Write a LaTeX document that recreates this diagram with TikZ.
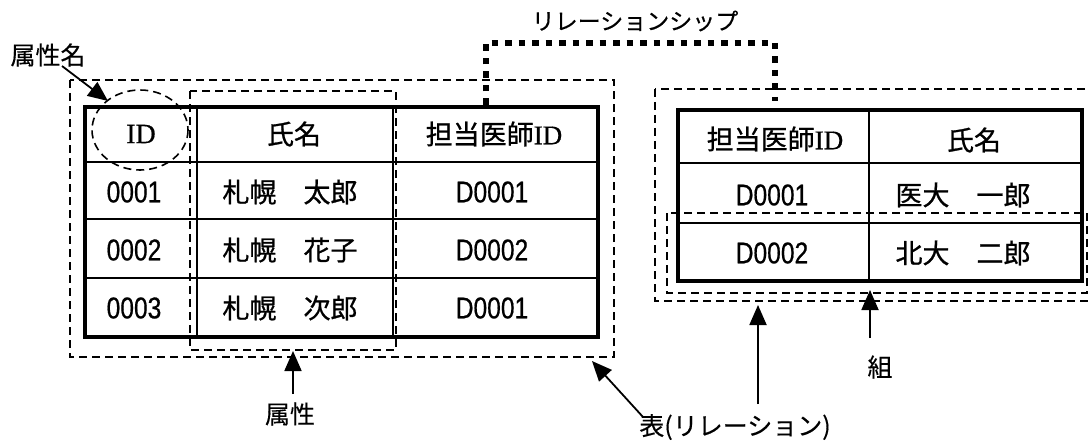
\documentclass[tikz,border=0pt]{standalone}
\usepackage{fontspec}
\usetikzlibrary{arrows.meta}
\newfontfamily\cjk[FakeBold=0.8]{Noto Sans CJK JP}
\newfontfamily\cjklight[FakeBold=0.3]{Noto Sans CJK JP}
\newfontfamily\nar[FakeStretch=0.82,FakeBold=0.6]{Liberation Sans}
\newfontfamily\ser[FakeBold=0.6]{Liberation Serif}
\tikzset{
  tbl/.style={line width=4.5pt, line join=miter},
  hline/.style={line width=2.6pt},
  rline/.style={line width=2pt},
  vline/.style={line width=1.6pt},
  dbox/.style={line width=1.6pt, dash pattern=on 8pt off 5pt},
  rel/.style={line width=6.5pt, dash pattern=on 6.5pt off 7pt},
  arr/.style={line width=1.8pt, -{Triangle[length=20pt,width=17pt]}},
  cell/.style={inner sep=0pt, font=\cjk\fontsize{27}{30}\selectfont},
  num/.style={inner sep=0pt, font=\nar\fontsize{30}{34}\selectfont},
  lbl/.style={inner sep=0pt, font=\cjklight\fontsize{25}{30}\selectfont}
}
\begin{document}
\begin{tikzpicture}[x=1pt,y=-1pt]
\useasboundingbox (0,0) rectangle (1089,441);
\fill[white] (0,0) rectangle (1089,441);
% ---------- left table ----------
\draw[hline] (85,162) -- (598,162);
\draw[rline] (85,219) -- (598,219);
\draw[rline] (85,278) -- (598,278);
\draw[vline] (197,107) -- (197,337);
\draw[vline] (393,107) -- (393,337);
\draw[tbl] (85,107) rectangle (598,337);
\node[inner sep=0pt, font=\ser\fontsize{28}{30}\selectfont] (lh1) at (141,134) {ID};
\node[cell] (lh2) at (294,134) {氏名};
\node[cell] (lh3) at (494,134) {担当医師{\ser ID}};
\node[num] (l11) at (134,192) {0001};
\node[cell] (l12) at (290,192) {札幌　太郎};
\node[num] (l13) at (492,192) {D0001};
\node[num] (l21) at (134,250) {0002};
\node[cell] (l22) at (290,250) {札幌　花子};
\node[num] (l23) at (492,250) {D0002};
\node[num] (l31) at (134,308) {0003};
\node[cell] (l32) at (290,308) {札幌　次郎};
\node[num] (l33) at (492,308) {D0001};
% ---------- right table ----------
\draw[hline] (678,163) -- (1082,163);
\draw[hline] (678,223) -- (1082,223);
\draw[vline] (869,110) -- (869,281);
\draw[tbl] (678,110) rectangle (1082,281);
\node[cell] (rh1) at (775,139) {担当医師{\ser ID}};
\node[cell] (rh2) at (974,140) {氏名};
\node[num] (r11) at (772,195) {D0001};
\node[cell] (r12) at (963,195) {医大　一郎};
\node[num] (r21) at (772,253) {D0002};
\node[cell] (r22) at (963,253) {北大　二郎};
% ---------- dashed groupings ----------
\draw[dbox] (70,80) rectangle (614,357);
\draw[dbox] (190,91) rectangle (396,350);
\draw[dbox] (140,130) ellipse [x radius=48, y radius=40];
\draw[dbox] (655,89) rectangle (1100,301);
\draw[dbox] (667,213) rectangle (1087,293);
% ---------- relationship ----------
\coordinate (ltop) at (486,105);
\coordinate (rtop) at (775,101);
\draw[rel] (ltop) -- (486,43) -| (rtop);
\node[lbl, font=\cjklight\fontsize{23}{28}\selectfont] (relname) at (635,21) {リレーションシップ};
% ---------- labels and arrows ----------
\node[lbl] (zname) at (48,55) {属性名};
\coordinate (znameS) at (62,66);
\coordinate (znameT) at (108,101);
\draw[arr] (znameS) -- (znameT);
\node[lbl] (zoku) at (290,414) {属性};
\coordinate (zokuS) at (293,394);
\coordinate (zokuT) at (293,351);
\draw[arr] (zokuS) -- (zokuT);
\node[lbl] (hyo) at (735,427) {表(リレーション)};
\coordinate (hyoS1) at (643,417);
\coordinate (hyoT1) at (592,361);
\draw[arr] (hyoS1) -- (hyoT1);
\coordinate (hyoS2) at (758,404);
\coordinate (hyoT2) at (758,305);
\draw[arr] (hyoS2) -- (hyoT2);
\node[lbl] (kumi) at (880,367) {組};
\coordinate (kumiS) at (870,338);
\coordinate (kumiT) at (870,290);
\draw[arr] (kumiS) -- (kumiT);
\end{tikzpicture}
\end{document}
